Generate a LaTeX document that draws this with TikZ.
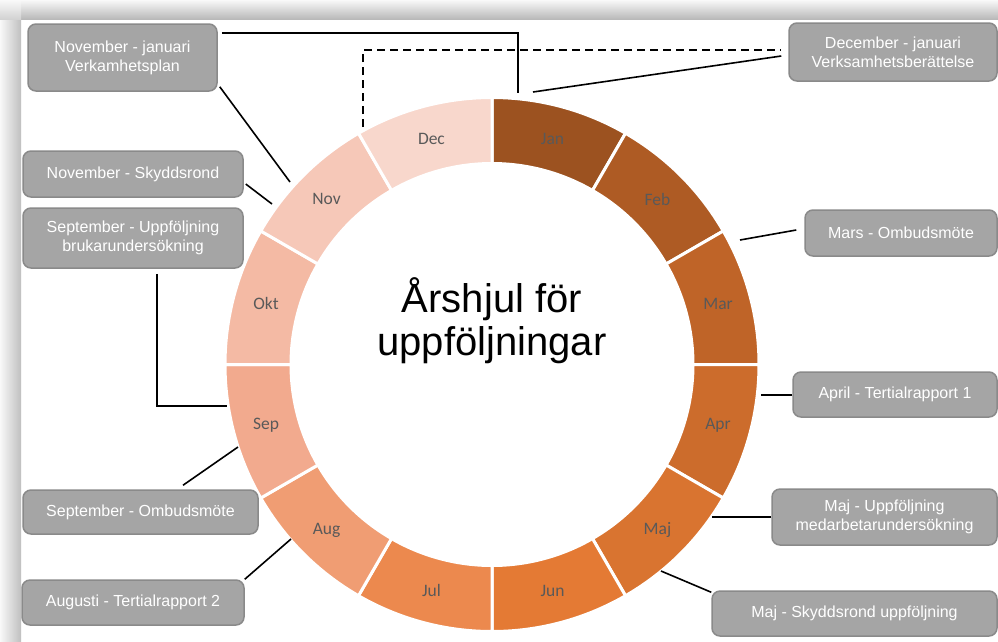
\documentclass[tikz,border=0pt]{standalone}
\usepackage{fontspec}
\setmainfont{Liberation Sans}
\newfontfamily\monthfont{Carlito}
\usetikzlibrary{calc}
\definecolor{cjan}{HTML}{9C5220}
\definecolor{cfeb}{HTML}{AE5B24}
\definecolor{cmar}{HTML}{BF6428}
\definecolor{capr}{HTML}{CC6C2C}
\definecolor{cmaj}{HTML}{D97430}
\definecolor{cjun}{HTML}{E47A34}
\definecolor{cjul}{HTML}{EC894E}
\definecolor{caug}{HTML}{F09D73}
\definecolor{csep}{HTML}{F2AA8E}
\definecolor{cokt}{HTML}{F4BAA4}
\definecolor{cnov}{HTML}{F6C8B8}
\definecolor{cdec}{HTML}{F8D7CC}
\definecolor{boxfill}{HTML}{A5A5A5}
\definecolor{boxline}{HTML}{8A8A8A}
\definecolor{mtext}{HTML}{595959}
\tikzset{
  infobox/.style={draw=boxline, fill=boxfill, line width=1.5pt, rounded corners=8pt,
    text=white, align=center, inner sep=0pt, font=\fontsize{16}{19}\selectfont},
  mlabel/.style={text=mtext, font=\monthfont\fontsize{17.5}{20}\selectfont, inner sep=0pt},
  conn/.style={line width=1.6pt, black},
  seg/.style={draw=white, line width=3pt, line join=miter}
}
\begin{document}
\begin{tikzpicture}[x=1pt, y=-1pt]
\useasboundingbox (0,0) rectangle (998,641);
\fill[white] (0,0) rectangle (998,641);
\shade[top color=gray!5, bottom color=gray!55] (0,0) rectangle (998,19);
\shade[left color=gray!5, right color=gray!50] (0,19) rectangle (21,641);
\shade[top color=gray!5, bottom color=gray!35] (0,0) rectangle (21,19);

\coordinate (C) at (492,364.5);

\foreach \i/\m/\c in {1/Jan/cjan, 2/Feb/cfeb, 3/Mar/cmar, 4/Apr/capr, 5/Maj/cmaj, 6/Jun/cjun,
                      7/Jul/cjul, 8/Aug/caug, 9/Sep/csep, 10/Okt/cokt, 11/Nov/cnov, 12/Dec/cdec} {
  \pgfmathsetmacro\aa{120-30*\i}
  \pgfmathsetmacro\ab{90-30*\i}
  \pgfmathsetmacro\am{105-30*\i}
  \path[seg, fill=\c] ($(C)+(\aa:267pt)$) arc[start angle=\aa, end angle=\ab, radius=267pt]
     -- ($(C)+(\ab:201pt)$) arc[start angle=\ab, end angle=\aa, radius=201pt] -- cycle;
  \node[mlabel] (m\i) at ($(C)+(\am:234pt)$) {\m};
}

\node[font=\fontsize{40}{44}\selectfont, anchor=base, inner sep=0pt] (titleA) at (492,312) {Årshjul för};
\node[font=\fontsize{40}{44}\selectfont, anchor=base, inner sep=0pt] (titleB) at (492,355) {uppföljningar};

% boxes
\node[infobox, minimum width=189pt, minimum height=67pt] (b1) at (122.5,57.5) {November - januari\\Verkamhetsplan};
\node[infobox, minimum width=220pt, minimum height=46pt] (b2) at (133,174) {November - Skyddsrond};
\node[infobox, minimum width=220pt, minimum height=60pt] (b3) at (133,238) {September - Uppföljning\\brukarundersökning};
\node[infobox, minimum width=235pt, minimum height=44pt] (b4) at (140.5,512) {September - Ombudsmöte};
\node[infobox, minimum width=222pt, minimum height=45pt] (b5) at (133,602.5) {Augusti - Tertialrapport 2};
\node[infobox, minimum width=208pt, minimum height=58pt] (b6) at (893,52) {December - januari\\Verksamhetsberättelse};
\node[infobox, minimum width=192pt, minimum height=46pt] (b7) at (901,233) {Mars - Ombudsmöte};
\node[infobox, minimum width=204pt, minimum height=45pt] (b8) at (895,394.5) {April - Tertialrapport 1};
\node[infobox, minimum width=225pt, minimum height=56pt] (b9) at (884.5,517) {Maj - Uppföljning\\medarbetarundersökning};
\node[infobox, minimum width=285pt, minimum height=45pt] (b10) at (854.5,613.5) {Maj - Skyddsrond uppföljning};

% ring anchor points
\coordinate (r1) at (518,93);
\coordinate (r2) at (290,182);
\coordinate (r3) at (363,127);
\coordinate (r4) at (533,92);
\coordinate (r5) at (272,204);
\coordinate (r6) at (227,406);
\coordinate (r7) at (238,447);
\coordinate (r8) at (291,539);
\coordinate (r9) at (740,240);
\coordinate (r10) at (761,395);
\coordinate (r11) at (712,517);
\coordinate (r12) at (661,571);

% connectors
\draw[conn] ([shift={(4pt,-10pt)}]b1.north east) -| (r1);
\draw[conn] ([shift={(2pt,5pt)}]b1.south east) -- (r2);
\draw[conn, dash pattern=on 8pt off 5pt] (r3) |- ([shift={(-8pt,2pt)}]b6.west);
\draw[conn] ([shift={(-7pt,-4pt)}]b6.west) -- (r4);
\draw[conn] ([shift={(2pt,-10pt)}]b2.east) -- (r5);
\draw[conn] ([shift={(24pt,-5pt)}]b3.south) |- (r6);
\draw[conn] ([shift={(42.5pt,4pt)}]b4.north) -- (r7);
\draw[conn] (b5.north east) -- (r8);
\draw[conn] ([shift={(-8pt,3pt)}]b7.west) -- (r9);
\draw[conn] (b8.west |- r10) -- (r10);
\draw[conn] (b9.west) -- (r11);
\draw[conn] ([shift={(0pt,-2pt)}]b10.north west) -- (r12);
\end{tikzpicture}
\end{document}
